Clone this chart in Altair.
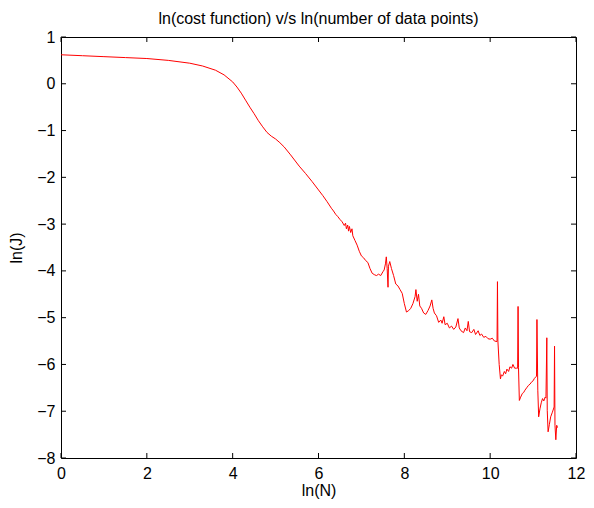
import altair as alt
import pandas as pd

# ---- data: (ln N, ln J) pairs, by segment ----
smooth_part = [
    (0.0, 0.62), (0.5, 0.60), (1.0, 0.58), (1.5, 0.56), (2.0, 0.54), (2.5, 0.50), (3.0, 0.44),
    (3.3, 0.38), (3.6, 0.29), (3.8, 0.19), (4.0, 0.04), (4.1, -0.07), (4.2, -0.20), (4.3, -0.35),
    (4.4, -0.50), (4.5, -0.64), (4.6, -0.79), (4.7, -0.92), (4.8, -1.04), (4.9, -1.12), (5.0, -1.18),
    (5.1, -1.26), (5.2, -1.35), (5.35, -1.52), (5.55, -1.76), (5.7, -1.92), (5.85, -2.09),
    (6.0, -2.27), (6.1, -2.39), (6.2, -2.52),
]
noisy_part = [
    (6.3, -2.66), (6.35, -2.72), (6.4, -2.79), (6.45, -2.84), (6.5, -2.90), (6.55, -2.95),
    (6.6, -3.03), (6.63, -2.98), (6.65, -3.10), (6.68, -3.02), (6.7, -3.15), (6.72, -3.05),
    (6.75, -3.18), (6.78, -3.10), (6.8, -3.25), (6.85, -3.35), (6.9, -3.45), (6.95, -3.58),
    (7.0, -3.68), (7.05, -3.72), (7.1, -3.78), (7.15, -3.82), (7.2, -3.95), (7.25, -4.05),
    (7.3, -4.08), (7.35, -4.10), (7.4, -4.07), (7.45, -4.10), (7.5, -4.02), (7.53, -3.98),
    (7.56, -3.85), (7.58, -3.70), (7.6, -3.95), (7.62, -4.35), (7.63, -3.90), (7.66, -3.80),
    (7.7, -3.95), (7.75, -4.10), (7.8, -4.28), (7.85, -4.32), (7.9, -4.40), (7.95, -4.48),
    (8.0, -4.70), (8.05, -4.88), (8.1, -4.85), (8.15, -4.80), (8.2, -4.70), (8.25, -4.55),
    (8.27, -4.40), (8.3, -4.65), (8.33, -4.50), (8.36, -4.75), (8.4, -4.80), (8.45, -4.90),
    (8.5, -4.93), (8.55, -4.85), (8.6, -4.75), (8.64, -4.62), (8.67, -4.80), (8.7, -4.90),
    (8.75, -4.96), (8.8, -5.10), (8.85, -5.05), (8.88, -5.12), (8.92, -4.98), (8.95, -5.15),
    (9.0, -5.12), (9.05, -5.22), (9.1, -5.18), (9.15, -5.25), (9.2, -5.20), (9.25, -5.02),
    (9.28, -5.22), (9.32, -5.28), (9.38, -5.32), (9.42, -5.22), (9.46, -5.28), (9.49, -5.08),
    (9.52, -5.30), (9.57, -5.32), (9.62, -5.25), (9.66, -5.36), (9.72, -5.28), (9.76, -5.38),
    (9.8, -5.35), (9.85, -5.42), (9.9, -5.40), (9.95, -5.45), (10.0, -5.46), (10.05, -5.44),
    (10.1, -5.50), (10.16, -5.51),
]
spiky_tail = [
    (10.17, -4.23), (10.18, -5.50), (10.21, -6.00), (10.24, -6.31), (10.26, -6.22), (10.29, -6.25),
    (10.33, -6.15), (10.36, -6.20), (10.39, -6.10), (10.43, -6.15), (10.46, -6.05), (10.5, -6.08),
    (10.53, -6.00), (10.57, -6.08), (10.61, -6.08), (10.64, -6.08), (10.65, -4.76), (10.66, -6.06),
    (10.68, -6.77), (10.71, -6.70), (10.75, -6.62), (10.78, -6.60), (10.81, -6.55), (10.85, -6.50),
    (10.89, -6.45), (10.93, -6.42), (10.96, -6.38), (11.0, -6.35), (11.03, -6.30), (11.06, -6.27),
    (11.08, -6.25), (11.09, -5.04), (11.11, -6.55), (11.13, -7.12), (11.16, -6.95), (11.19, -6.82),
    (11.22, -6.73), (11.25, -6.78), (11.28, -6.70), (11.3, -6.72), (11.32, -5.43), (11.33, -6.98),
    (11.35, -7.44), (11.38, -7.28), (11.41, -7.12), (11.45, -7.02), (11.49, -6.91), (11.5, -5.61),
    (11.51, -7.30), (11.53, -7.61), (11.55, -7.30), (11.57, -7.35),
]
x_ticks = [0, 2, 4, 6, 8, 10, 12]
y_ticks = [1, 0, -1, -2, -3, -4, -5, -6, -7, -8]

W, H = 515, 421
FONT = "Liberation Sans"
FS = 16

pts = smooth_part + noisy_part + spiky_tail
df = pd.DataFrame({"x": [p[0] for p in pts], "y": [p[1] for p in pts], "i": list(range(len(pts)))})
xt = pd.DataFrame({"t": x_ticks})
yt = pd.DataFrame({"t": y_ticks})

xscale = alt.Scale(domain=[0, 12], nice=False, zero=False)
yscale = alt.Scale(domain=[-8, 1], nice=False, zero=False)

axis_font = dict(labelFont=FONT, titleFont=FONT, labelFontSize=FS, titleFontSize=FS,
                 labelColor="black", titleColor="black", titleFontWeight="normal",
                 labelFlush=False, labelOverlap=False)
xaxis = alt.Axis(values=x_ticks, title="ln(N)", ticks=False, domain=False, grid=False,
                 labelPadding=7, titlePadding=1, format="d", **axis_font)
yaxis = alt.Axis(values=y_ticks, title="ln(J)", ticks=False, domain=False, grid=False,
                 labelPadding=6, titlePadding=12, format="d", **axis_font)

line = alt.Chart(df).mark_line(color="#ff0000", strokeWidth=1, clip=True).encode(
    x=alt.X("x:Q", scale=xscale, axis=xaxis),
    y=alt.Y("y:Q", scale=yscale, axis=yaxis),
    order="i:Q",
)

tick_style = dict(color="black", strokeWidth=1)
bottom = alt.Chart(xt).mark_rule(**tick_style).encode(
    x=alt.X("t:Q", scale=xscale, axis=xaxis), y=alt.value(H), y2=alt.value(H - 5))
top = alt.Chart(xt).mark_rule(**tick_style).encode(
    x=alt.X("t:Q", scale=xscale, axis=xaxis), y=alt.value(0), y2=alt.value(5))
left = alt.Chart(yt).mark_rule(**tick_style).encode(
    y=alt.Y("t:Q", scale=yscale, axis=yaxis), x=alt.value(0), x2=alt.value(5))
right = alt.Chart(yt).mark_rule(**tick_style).encode(
    y=alt.Y("t:Q", scale=yscale, axis=yaxis), x=alt.value(W), x2=alt.value(W - 5))

chart = alt.layer(line, bottom, top, left, right).properties(
    width=W, height=H,
    background="white",
    title=alt.TitleParams("ln(cost function) v/s ln(number of data points)", font=FONT,
                          fontSize=FS, fontWeight="normal", color="black", anchor="middle",
                          frame="group", offset=2),
    autosize=alt.AutoSizeParams(type="none"),
    padding={"left": 53, "top": 29, "right": 10, "bottom": 42},
).configure_view(stroke="black", strokeWidth=1)

chart.save("out.html", embed_options={"renderer": "svg", "actions": False})
